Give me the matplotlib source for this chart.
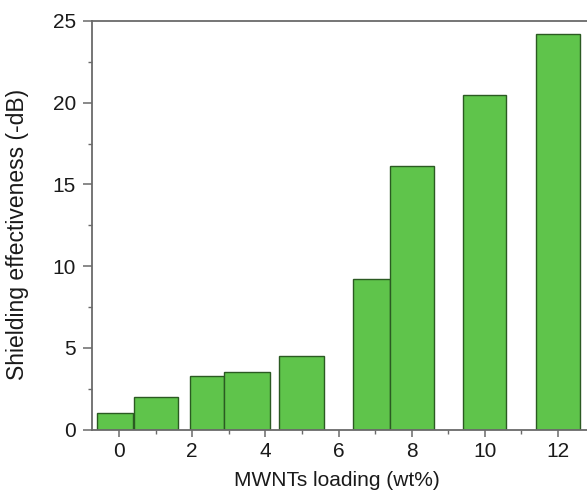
import matplotlib
matplotlib.use("Agg")
import matplotlib.pyplot as plt
from matplotlib.ticker import MultipleLocator

# MWNT loading (bar centres, wt%), bar widths and shielding effectiveness (-dB)
loading = [-0.1, 1.0, 2.41, 3.5, 5.0, 6.9, 8.0, 9.98, 12.0]
widths = [0.98, 1.21, 0.94, 1.25, 1.23, 1.0, 1.2, 1.18, 1.2]
shielding = [1.0, 2.0, 3.27, 3.53, 4.5, 9.2, 16.15, 20.5, 24.2]

x_ticks = [0, 2, 4, 6, 8, 10, 12]
y_ticks = [0, 5, 10, 15, 20, 25]

plt.rcParams['font.family'] = ['Liberation Sans', 'DejaVu Sans']

W, H = 587, 491
fig = plt.figure(figsize=(W / 100, H / 100), dpi=100)
left_px, right_px, top_px, bottom_px = 92, 592, 21, 429.5
ax = fig.add_axes([left_px / W, 1 - bottom_px / H,
                   (right_px - left_px) / W, (bottom_px - top_px) / H])

ax.bar(loading, shielding, width=widths, color='#5fc44b',
       edgecolor='#2b5a22', linewidth=1.0, zorder=2)

ax.set_xlim(-0.74, 12.93)
ax.set_ylim(0, 25)
ax.set_xticks(x_ticks)
ax.set_yticks(y_ticks)
ax.xaxis.set_minor_locator(MultipleLocator(1))
ax.yaxis.set_minor_locator(MultipleLocator(2.5))

spine_col = '#6a6a6a'
text_col = '#1a1a1a'
for side in ['left', 'bottom', 'top']:
    ax.spines[side].set_color(spine_col)
    ax.spines[side].set_linewidth(1.3)
ax.spines['right'].set_visible(False)

ax.tick_params(axis='both', which='major', direction='out', width=1.1,
               color=spine_col, labelsize=15, labelcolor=text_col)
ax.tick_params(axis='x', which='major', length=5.3, pad=4.0)
ax.tick_params(axis='y', which='major', length=6.2, pad=5.5)
ax.tick_params(axis='both', which='minor', direction='out', length=3.2,
               width=1.0, color=spine_col)
ax.tick_params(top=False, right=False, which='both')

ax.set_xlabel('MWNTs loading (wt%)', fontsize=15, color=text_col,
              va='baseline')
ax.xaxis.set_label_coords(336.7 / W, 1 - 486 / H, transform=fig.transFigure)
ax.set_ylabel('Shielding effectiveness (-dB)', fontsize=16.5, color=text_col,
              va='center')
ax.yaxis.set_label_coords(17.5 / W, 1 - 234 / H, transform=fig.transFigure)

fig.savefig('out.png', dpi=100)
